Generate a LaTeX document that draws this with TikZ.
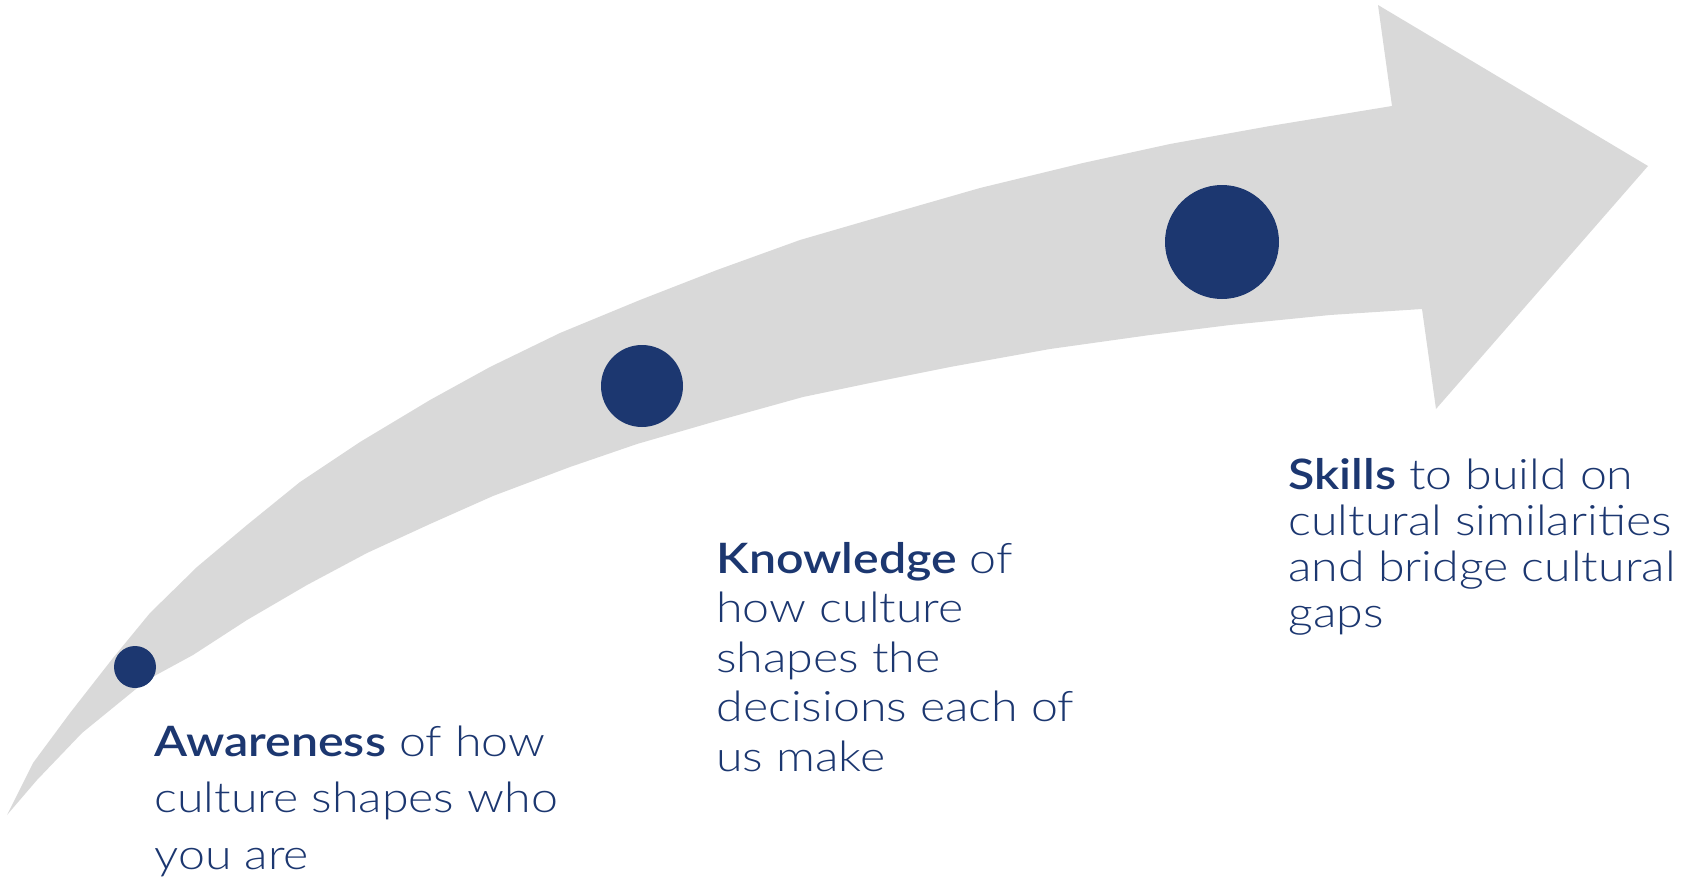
\documentclass[tikz,border=0pt]{standalone}
\usepackage{fontspec}
\setmainfont{Lato Light}[FakeStretch=1.15,BoldFont={Lato Semibold}]
\definecolor{navy}{HTML}{1C3770}
\definecolor{arrowgray}{HTML}{D9D9D9}

\begin{document}
\begin{tikzpicture}[x=0.5pt,y=-0.5pt,
    stagedot/.style={circle,fill=navy,inner sep=0pt},
    stagetext/.style={anchor=base west,inner sep=0pt,align=left,text=navy}]
  \useasboundingbox (0,0) rectangle (1699,878);
  % curved arrow
  \fill[arrowgray] (7,815) -- (33,763) -- (70,713) -- (113,658) -- (150,613)
    -- (197,567) -- (247,525) -- (300,482) -- (360,442) -- (430,400)
    -- (490,367) -- (560,333) -- (640,300) -- (717,270) -- (800,240)
    -- (893,213) -- (980,188) -- (1083,163) -- (1170,144) -- (1270,126)
    -- (1392,106) -- (1378,5) -- (1648,166) -- (1436,409) -- (1422,309)
    -- (1330,315) -- (1230,325) -- (1150,335) -- (1050,349) -- (950,367)
    -- (870,383) -- (803,397) -- (713,422) -- (637,444) -- (570,467)
    -- (493,496) -- (430,524) -- (367,553) -- (307,585) -- (247,620)
    -- (193,655) -- (147,680) -- (82,733) -- (37,780) -- cycle;
  % stages on the arrow
  \node[stagedot,minimum size=21pt] (aware) at (135,667) {};
  \node[stagedot,minimum size=41pt] (know) at (642,386) {};
  \node[stagedot,minimum size=57pt] (skill) at (1222,242) {};
  % texts (base anchor sits under the last line)
  \node[stagetext,font=\fontsize{21}{28.25}\selectfont] (awaretext) at (154,869)
    {\textbf{Awareness} of how\\culture shapes who\\you are};
  \node[stagetext,font=\fontsize{21}{24.75}\selectfont] (knowtext) at (716,771)
    {\textbf{Knowledge} of\\how culture\\shapes the\\decisions each of\\us make};
  \node[stagetext,font=\fontsize{21}{23}\selectfont] (skilltext) at (1288,627)
    {\textbf{Skills} to build on\\cultural similarities\\and bridge cultural\\gaps};
\end{tikzpicture}
\end{document}
